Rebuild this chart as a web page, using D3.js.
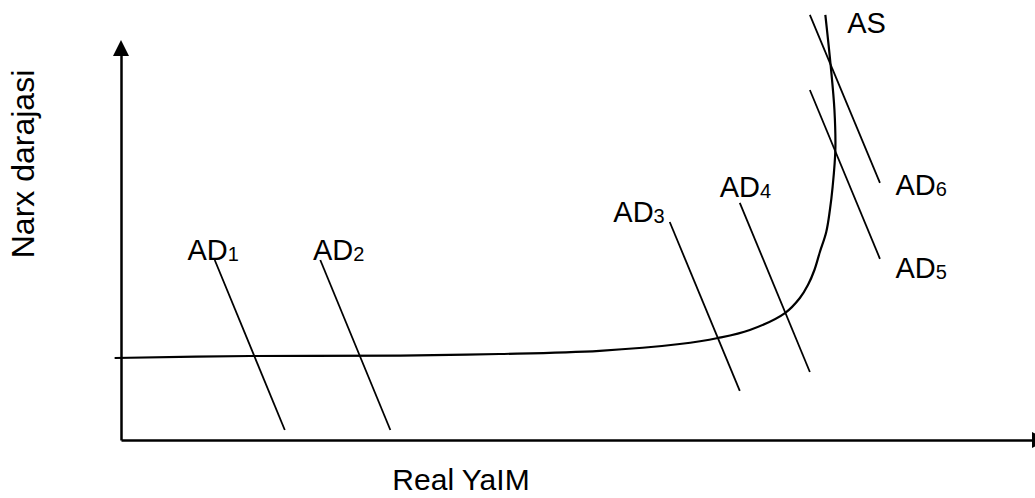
<!DOCTYPE html>
<html>
<head>
<meta charset="utf-8">
<script src="https://cdn.jsdelivr.net/npm/d3@7"></script>
<style>
  html, body { margin: 0; padding: 0; background: #fff; }
  svg { display: block; }
  text { font-family: "Liberation Sans", Arial, sans-serif; fill: #000; }
</style>
</head>
<body>
<svg id="chart" width="1035" height="498"></svg>
<script>
// ---- data (conceptual units: 0..100 on each axis) ----
const xTitle = "Real YaIM";
const yTitle = "Narx darajasi";

// Aggregate supply curve (Real output, Price level)
const asCurveX = [-0.7, 14.2, 30.7, 41.6, 52.6, 61.4, 65.6, 69.1, 73.0, 74.6, 75.5, 76.2, 76.8, 77.5, 77.9, 78.2, 78.5, 78.4, 78.0, 77.4];
const asCurveY = [20.5, 21.0, 21.1, 21.5, 22.3, 24.0, 25.5, 27.5, 31.8, 35.5, 38.8, 42.5, 47.0, 52.0, 57.5, 63.3, 72.5, 82.5, 93.3, 106.3];
const asLabel = { text: "AS", x: 79.8, y: 101.8 };

// Aggregate demand lines
const adNames = ["1", "2", "3", "4", "5", "6"];
const adTopX    = [10.3, 21.9, 60.3, 68.0, 75.7, 75.7];
const adTopY    = [45.0, 45.0, 54.5, 59.3, 87.5, 106.3];
const adBottomX = [18.0, 29.6, 68.0, 75.7, 83.4, 83.4];
const adBottomY = [2.5, 2.5, 12.3, 17.0, 45.3, 64.3];
const adLabelX  = [7.3, 21.1, 54.1, 65.8, 85.1, 85.1];
const adLabelY  = [45.0, 45.0, 54.5, 60.8, 40.5, 61.3];

// ---- layout ----
const svg = d3.select("#chart");
const x = d3.scaleLinear().domain([0, 100]).range([121, 1031]);
const y = d3.scaleLinear().domain([0, 100]).range([440, 40]);

// axes (no ticks)
const xAxisScale = x.copy().range([121, 1032]);
const yAxisScale = y.copy().range([440, 52]);
svg.append("g")
  .attr("transform", `translate(0,${y(0)})`)
  .call(d3.axisBottom(xAxisScale).tickValues([]).tickSizeOuter(0))
  .call(g => g.select(".domain").attr("stroke", "#000").attr("stroke-width", 2.5));
svg.append("g")
  .attr("transform", `translate(${x(0)},0)`)
  .call(d3.axisLeft(yAxisScale).tickValues([]).tickSizeOuter(0))
  .call(g => g.select(".domain").attr("stroke", "#000").attr("stroke-width", 2.5));

// arrowheads
const ax = x(0), ay = y(100);
svg.append("path")
  .attr("d", `M${ax},${ay} L${ax - 8},${ay + 16} L${ax + 8},${ay + 16} Z`)
  .attr("fill", "#000");
const bx = 1032, by = y(0);
svg.append("path")
  .attr("d", `M${bx + 16},${by} L${bx},${by - 8} L${bx},${by + 8} Z`)
  .attr("fill", "#000");

// AS curve
const asPts = asCurveX.map((v, i) => [v, asCurveY[i]]);
svg.append("path")
  .datum(asPts)
  .attr("fill", "none")
  .attr("stroke", "#000")
  .attr("stroke-width", 2.2)
  .attr("d", d3.line().x(d => x(d[0])).y(d => y(d[1])).curve(d3.curveCatmullRom.alpha(0.5)));

// AD lines
const ads = adNames.map((n, i) => ({
  n, x1: adTopX[i], y1: adTopY[i], x2: adBottomX[i], y2: adBottomY[i], lx: adLabelX[i], ly: adLabelY[i]
}));
svg.append("g").selectAll("line").data(ads).join("line")
  .attr("x1", d => x(d.x1)).attr("y1", d => y(d.y1))
  .attr("x2", d => x(d.x2)).attr("y2", d => y(d.y2))
  .attr("stroke", "#000").attr("stroke-width", 1.8);

const lbl = svg.append("g").selectAll("text").data(ads).join("text")
  .attr("x", d => x(d.lx)).attr("y", d => y(d.ly))
  .attr("font-size", 29);
lbl.append("tspan").text("AD");
lbl.append("tspan").attr("font-size", 20).attr("dy", 1).text(d => d.n);

svg.append("text")
  .attr("x", x(asLabel.x)).attr("y", y(asLabel.y))
  .attr("font-size", 29)
  .text(asLabel.text);

// axis titles
svg.append("text")
  .attr("x", 461).attr("y", 490)
  .attr("text-anchor", "middle")
  .attr("font-size", 30)
  .text(xTitle);
svg.append("text")
  .attr("transform", "translate(34,164) rotate(-90)")
  .attr("text-anchor", "middle")
  .attr("font-size", 32)
  .text(yTitle);
</script>
</body>
</html>
